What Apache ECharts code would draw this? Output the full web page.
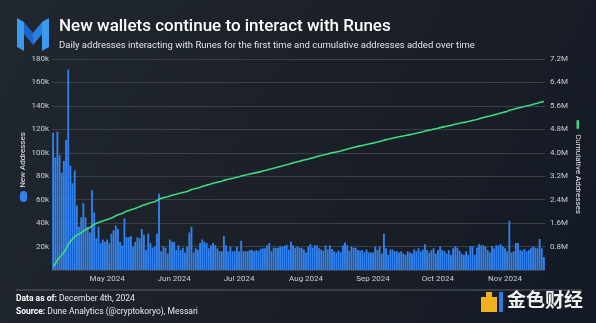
<!DOCTYPE html>
<html>
<head>
<meta charset="utf-8">
<script src="https://cdn.jsdelivr.net/npm/echarts@6/dist/echarts.min.js"></script>
<style>
html,body{margin:0;padding:0;background:#181d25;}
#chart{width:596px;height:323px;}
</style>
</head>
<body>
<div id="chart"></div>
<script>
// ---- Data ----
const startDate = '2024-04-20';
const endDate = '2024-12-03';
// Daily new addresses interacting with Runes (in thousands)
const newAddressesK = [
  117,96,118,98,83,93,111,171,89,74,85,55,37,45,57,45,37,32,68,49,27,37,23,26,24,26,23,31,34,38,35,24,21,44,28,28,29,20,24,28,27,35,30,17,31,23,19,20,31,65,16,20,
  19,14,26,24,24,17,21,17,19,15,20,32,37,15,18.5,17,23,26,24,23,18.5,21,23,21,18.5,16,16,29,21,16,20,16,16,20,16,25,16,16,16,17,17,16,17,16,18,18.5,18.5,21,23,16,19,19,19,20,20,20.5,21.5,17.5,24,21,
  19,20,19,19,17.5,15,20,22,19,21,21,18.5,17.5,16.5,21,17.5,21,18,16,15,16.5,15,21,23.5,21,16.5,20,19,19,17,16.5,17,15,17.5,15,15,15,20,17,20,14,31,18.5,13,17.5,17.5,16,16,15,16,14,13,16,15,14,17.5,16,18.5,
  16,17.5,22,17,15,17,18.5,14,17,20,17,16,14,17,13,18.5,20,19,16.5,14,13,16,13,20.5,20,13,19,22,21,21,20,17,15,20.5,18.5,21,21,22,20,18.5,16,42,15,16,23,23,17,16.5,18,16,17,18.5,20,19,18.5,26.5,18.5,11
];
const leftTicksMax = 180000, leftInterval = 20000;
const rightTicksMax = 7200000, rightInterval = 800000;
const monthNames = ['Jan','Feb','Mar','Apr','May','Jun','Jul','Aug','Sep','Oct','Nov','Dec'];

// categories: each day from start to end
const dates = [];
{
  const d = new Date(startDate + 'T00:00:00Z');
  const e = new Date(endDate + 'T00:00:00Z');
  while (d <= e) { dates.push(d.toISOString().slice(0,10)); d.setUTCDate(d.getUTCDate()+1); }
}
const newAddresses = newAddressesK.map(v => v * 1000);
// cumulative addresses = running total of the daily new addresses
const cumulative = [];
newAddresses.reduce((acc, v) => { acc += v; cumulative.push(acc); return acc; }, 0);

const FONT = 'Roboto, "Liberation Sans", Arial, sans-serif';
const chart = echarts.init(document.getElementById('chart'), null, {renderer:'canvas'});
chart.setOption({
  backgroundColor: {
    type:'linear', x:0, y:0, x2:1, y2:1,
    colorStops:[{offset:0,color:'#21272f'},{offset:0.6,color:'#1a1f27'},{offset:1,color:'#131925'}]
  },
  animation:false,
  textStyle:{fontFamily:FONT},
  grid:{left:52, right:51, top:59, bottom:53},
  xAxis:{
    type:'category', data:dates, boundaryGap:true,
    axisLine:{show:false}, axisTick:{show:false},
    axisLabel:{
      color:'#c9ced6', fontSize:8, margin:5,
      interval:(i, v) => v.slice(8) === '15',
      formatter:v => monthNames[+v.slice(5,7)-1] + ' ' + v.slice(0,4)
    }
  },
  yAxis:[
    {
      type:'value', min:0, max:leftTicksMax, interval:leftInterval,
      axisLine:{show:false}, axisTick:{show:false},
      axisLabel:{color:'#c9ced6', fontSize:8, margin:3,
        formatter:v => v === 0 ? '' : (v/1000) + 'k'},
      splitLine:{lineStyle:{color:'#3b4048', width:1}}
    },
    {
      type:'value', min:0, max:rightTicksMax, interval:rightInterval, position:'right',
      axisLine:{show:false}, axisTick:{show:false},
      axisLabel:{color:'#c9ced6', fontSize:8, margin:5,
        formatter:v => v === 0 ? '' : (v/1e6).toFixed(1) + 'M'},
      splitLine:{show:false}
    }
  ],
  series:[
    {
      name:'New Addresses', type:'bar', data:newAddresses, yAxisIndex:0,
      barCategoryGap:'14%',
      itemStyle:{color:'#3182ee'}
    },
    {
      name:'Cumulative Addresses', type:'line', data:cumulative, yAxisIndex:1,
      showSymbol:false, symbol:'none',
      lineStyle:{color:'#3fd884', width:1.6}
    }
  ],
  graphic:[
    // Messari logo
    {type:'polygon', shape:{points:[[17,18],[24,22],[24,51],[17,47]]}, style:{fill:'#3a9cf0'}},
    {type:'polygon', shape:{points:[[24,22],[33,33],[33,45],[24,34]]}, style:{fill:'#1d64c8'}},
    {type:'polygon', shape:{points:[[33,33],[42,22],[42,34],[33,45]]}, style:{fill:'#2a80e0'}},
    {type:'polygon', shape:{points:[[42,22],[49,18],[49,47],[42,51]]}, style:{fill:'#3a9cf0'}},
    // Title & subtitle
    {type:'text', left:59, top:18, style:{text:'New wallets continue to interact with Runes', fill:'#ffffff', font:'500 17px ' + FONT}},
    {type:'text', left:59, top:41, style:{text:'Daily addresses interacting with Runes for the first time and cumulative addresses added over time', fill:'#dfe3e8', font:'9.5px ' + FONT}},
    // left axis name with marker
    {type:'text', x:23, y:160, rotation:Math.PI/2, style:{text:'New Addresses', fill:'#e6e9ee', font:'8px ' + FONT, align:'center', verticalAlign:'middle'}},
    {type:'rect', shape:{x:20, y:191, width:7, height:11, r:3.5}, style:{fill:'#3182ee'}},
    // right axis name with marker
    {type:'text', x:578, y:174, rotation:-Math.PI/2, style:{text:'Cumulative Addresses', fill:'#e6e9ee', font:'8px ' + FONT, align:'center', verticalAlign:'middle'}},
    {type:'rect', shape:{x:576.5, y:120, width:2.5, height:9, r:1}, style:{fill:'#3fd884'}},
    // separator
    {type:'line', shape:{x1:16, y1:290, x2:582, y2:290}, style:{stroke:'#5b6169', lineWidth:1}},
    // footer
    {type:'text', left:16, top:294, style:{
      text:'{b|Data as of:} December 4th, 2024', fill:'#e6e9ee', font:'8.5px ' + FONT,
      rich:{b:{fontWeight:'bold', fontSize:8.5, fill:'#ffffff', fontFamily:FONT}}}},
    {type:'text', left:16, top:307, style:{
      text:'{b|Source:} Dune Analytics (@cryptokoryo), Messari', fill:'#e6e9ee', font:'8.5px ' + FONT,
      rich:{b:{fontWeight:'bold', fontSize:8.5, fill:'#ffffff', fontFamily:FONT}}}},
    // watermark
    {type:'rect', shape:{x:481, y:297, width:16, height:15}, style:{fill:'#f2b01e'}},
    {type:'rect', shape:{x:486, y:292, width:6, height:6}, style:{fill:'#f2b01e'}},
    {type:'rect', shape:{x:499, y:292, width:4, height:20}, style:{fill:'#2d7be0'}},
    {type:'text', left:507, top:290, style:{text:'金色财经', fill:'#f0f0f0', font:'bold 19px "Noto Sans CJK SC", sans-serif'}}
  ]
});
</script>
</body>
</html>
